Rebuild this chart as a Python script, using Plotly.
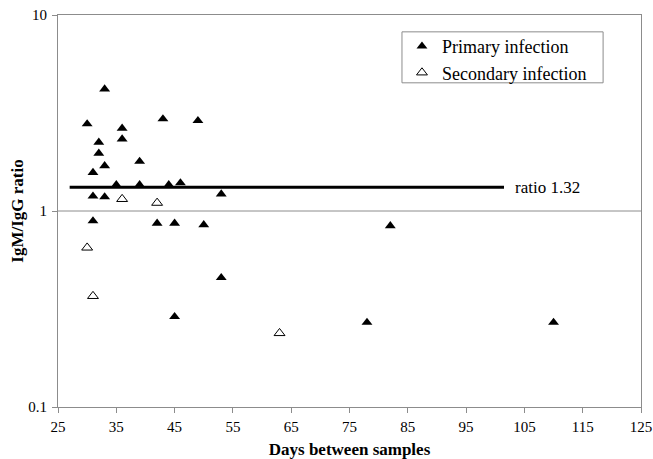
import math
import plotly.graph_objects as go

# Days between paired samples and IgM/IgG ratio for each patient
primary_days = [33, 30, 36, 36, 32, 32, 33, 31, 39, 43, 49, 35, 39, 44, 46,
                31, 33, 53, 31, 42, 45, 50, 53, 45, 78, 82, 110]
primary_ratio = [4.19, 2.78, 2.64, 2.33, 2.24, 1.97, 1.70, 1.57, 1.79, 2.95, 2.89,
                 1.36, 1.36, 1.36, 1.39, 1.19, 1.18, 1.22, 0.89, 0.865, 0.865,
                 0.85, 0.457, 0.289, 0.27, 0.84, 0.27]

secondary_days = [36, 42, 30, 31, 63]
secondary_ratio = [1.15, 1.10, 0.65, 0.368, 0.238]

cutoff_ratio = 1.32
cutoff_days = [27, 101.5]

x_ticks = list(range(25, 126, 10))
y_ticks = [0.1, 1, 10]
y_ticktext = ["0.1", "1", "10"]

SERIF = "Liberation Serif, Times New Roman, serif"
GRID = "#8c8c8c"
MSIZE = 9.5

fig = go.Figure()

fig.add_trace(go.Scatter(
    x=primary_days, y=primary_ratio, mode="markers",
    name="Primary infection",
    marker=dict(symbol="triangle-up", size=MSIZE, color="black",
                line=dict(color="black", width=0)),
))
fig.add_trace(go.Scatter(
    x=secondary_days, y=secondary_ratio, mode="markers",
    name="Secondary infection",
    marker=dict(symbol="triangle-up-open", size=MSIZE, color="black",
                line=dict(color="black", width=1)),
))
fig.add_trace(go.Scatter(
    x=cutoff_days, y=[cutoff_ratio] * len(cutoff_days), mode="lines",
    line=dict(color="black", width=3), showlegend=False, hoverinfo="skip",
))

# reference line at ratio = 1
fig.add_shape(type="line", xref="paper", yref="y", x0=0, x1=1, y0=1, y1=1,
              line=dict(color=GRID, width=1), layer="below")

# legend frame
fig.add_shape(type="rect", xref="paper", yref="paper",
              x0=0.590, x1=0.935, y0=0.827, y1=0.957,
              line=dict(color=GRID, width=1), fillcolor="white", layer="below")

# annotations on a log axis take log10 coordinates
fig.add_annotation(x=cutoff_days[-1] + 1.5, y=math.log10(cutoff_ratio),
                   xref="x", yref="y",
                   text=f"ratio {cutoff_ratio}", showarrow=False,
                   xanchor="left", yanchor="middle",
                   font=dict(family=SERIF, size=17, color="black"))

fig.update_layout(
    width=653, height=459,
    margin=dict(l=58, r=12, t=15, b=52),
    paper_bgcolor="white", plot_bgcolor="white",
    font=dict(family=SERIF, size=15, color="black"),
    showlegend=True,
    legend=dict(
        x=0.590, y=0.967, xanchor="left", yanchor="top",
        borderwidth=0, bgcolor="rgba(0,0,0,0)",
        font=dict(family=SERIF, size=18, color="black"),
        tracegroupgap=0,
    ),
    xaxis=dict(
        range=[25, 125], tickvals=x_ticks, ticks="outside", ticklen=5,
        tickcolor=GRID, showline=True, linecolor=GRID, linewidth=1,
        mirror=True, showgrid=False, zeroline=False, ticklabelstandoff=1,
        automargin=False,
        tickfont=dict(family=SERIF, size=15, color="black"),
        title=dict(text="<b>Days between samples</b>", standoff=12,
                   font=dict(family=SERIF, size=17, color="black")),
    ),
    yaxis=dict(
        type="log", range=[-1, 1], tickvals=y_ticks, ticktext=y_ticktext,
        ticks="outside", ticklen=5, tickcolor=GRID,
        showline=True, linecolor=GRID, linewidth=1, mirror=True,
        showgrid=False, zeroline=False, ticklabelstandoff=2,
        automargin=False,
        tickfont=dict(family=SERIF, size=15, color="black"),
        title=dict(text="<b>IgM/IgG ratio</b>", standoff=0,
                   font=dict(family=SERIF, size=17, color="black")),
    ),
)

fig.write_html("out.html")
